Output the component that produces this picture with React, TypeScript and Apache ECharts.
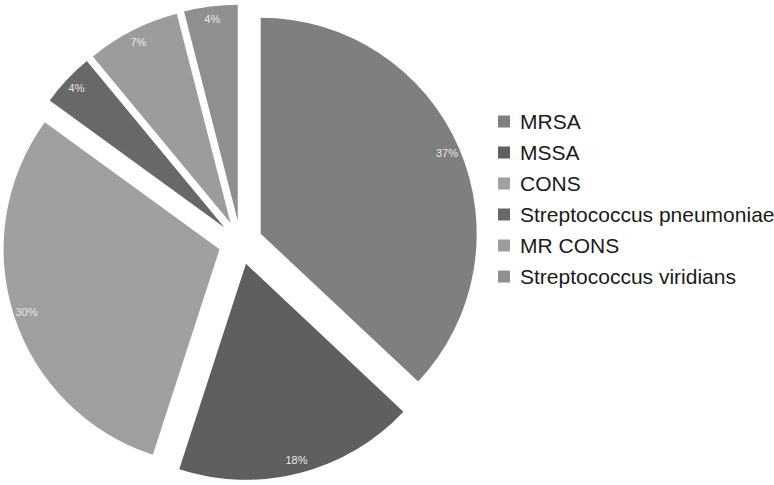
import React, { useEffect, useRef } from "react";
import * as echarts from "echarts";

const categories = [
  "MRSA",
  "MSSA",
  "CONS",
  "Streptococcus pneumoniae",
  "MR CONS",
  "Streptococcus viridians",
];
const values = [37, 18, 30, 4, 7, 4];
const colors = ["#7f7f7f", "#5f5f5f", "#a0a0a0", "#686868", "#9c9c9c", "#8f8f8f"];

export default function App() {
  const ref = useRef<HTMLDivElement>(null);
  useEffect(() => {
    if (!ref.current) return;
    const chart = echarts.init(ref.current, undefined, { renderer: "svg" });
    const center = [240.5, 242.5];
    const mainData = categories.map((name, i) => ({
      name,
      value: values[i],
      selected: true,
      itemStyle: { color: colors[i] },
      select: { itemStyle: { color: colors[i] } },
    }));
    const labelData = categories.map((name, i) => ({
      name,
      value: values[i],
      selected: true,
      itemStyle: { color: "rgba(0,0,0,0)" },
      select: { itemStyle: { color: "rgba(0,0,0,0)" } },
    }));
    chart.setOption({
      animation: false,
      backgroundColor: "#ffffff",
      legend: {
        orient: "vertical",
        left: 498,
        top: 111,
        padding: 0,
        itemWidth: 12,
        itemHeight: 12,
        itemGap: 10,
        icon: "rect",
        selectedMode: false,
        data: categories.map((name, i) => ({ name, itemStyle: { color: colors[i] } })),
        textStyle: {
          fontFamily: "Liberation Sans",
          fontSize: 21,
          color: "#1a1a1a",
          padding: [0, 0, 0, 5],
        },
      },
      series: [
        {
          type: "pie",
          center,
          radius: [0, 216],
          startAngle: 90,
          clockwise: true,
          selectedMode: "multiple",
          selectedOffset: 22,
          silent: true,
          label: { show: false },
          labelLine: { show: false },
          emphasis: { disabled: true },
          data: mainData,
        },
        {
          type: "pie",
          center,
          radius: [0, 400],
          startAngle: 90,
          clockwise: true,
          selectedMode: "multiple",
          selectedOffset: 22,
          silent: true,
          z: 3,
          label: {
            show: true,
            position: "inside",
            formatter: "{c}%",
            color: "#e6e6e6",
            fontSize: 11,
            fontFamily: "Liberation Sans",
          },
          labelLine: { show: false },
          emphasis: { disabled: true },
          data: labelData,
        },
      ],
    });
    return () => chart.dispose();
  }, []);
  return (
    <div
      ref={ref}
      style={{ position: "absolute", left: 0, top: 0, width: 774, height: 485 }}
    />
  );
}
